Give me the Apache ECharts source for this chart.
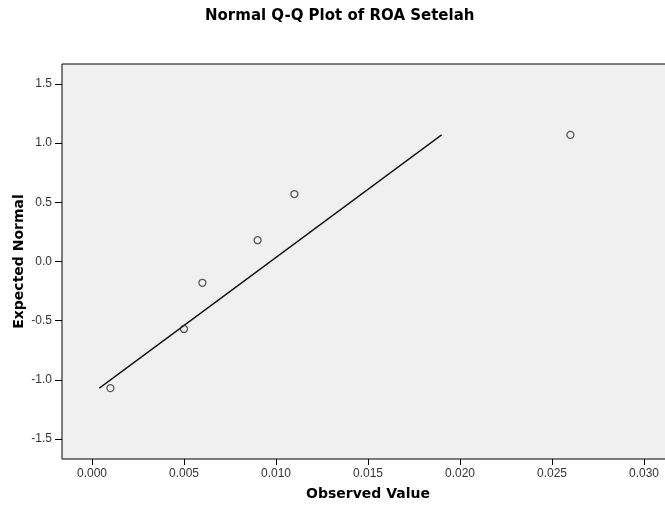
<!DOCTYPE html>
<html>
<head>
<meta charset="utf-8">
<script src="https://cdn.jsdelivr.net/npm/echarts@6/dist/echarts.min.js"></script>
<style>
  html, body { margin: 0; padding: 0; background: #fff; }
  #chart { width: 665px; height: 508px; }
</style>
</head>
<body>
<div id="chart"></div>
<script>
  // observed ROA values and their expected normal scores
  var observed = [0.001, 0.005, 0.006, 0.009, 0.011, 0.026]
  var expected = [-1.07, -0.57, -0.18, 0.18, 0.57, 1.07]
  // reference line end points
  var lineX = [0.0004, 0.0190]
  var lineY = [-1.07, 1.07]
  var xTicks = { min: 0, max: 0.03, step: 0.005 }
  var yTicks = { min: -1.5, max: 1.5, step: 0.5 }

  var points = observed.map(function (v, i) { return [v, expected[i]] })
  var line = lineX.map(function (v, i) { return [v, lineY[i]] })

  var boldFont = 'DejaVu Sans'
  var tickFont = 'Liberation Sans'

  var chart = echarts.init(document.getElementById('chart'))
  chart.setOption({
    backgroundColor: '#fff',
    animation: false,
    title: {
      text: 'Normal Q-Q Plot of ROA Setelah',
      left: 200,
      top: 4,
      textStyle: { fontFamily: boldFont, fontSize: 15, fontWeight: 'bold', color: '#000' }
    },
    grid: [
      // frame of the plot area
      {
        left: 62, top: 64, right: -1, bottom: 49,
        show: true, backgroundColor: '#f0f0f0', borderColor: '#000', borderWidth: 1,
        outerBoundsMode: 'none'
      },
      // scale area between the outer ticks
      { left: 92, right: 21, top: 84, bottom: 69, outerBoundsMode: 'none' }
    ],
    xAxis: [
      { gridIndex: 0, type: 'value', show: false },
      {
        gridIndex: 1, type: 'value',
        min: xTicks.min, max: xTicks.max, interval: xTicks.step,
        position: 'bottom',
        offset: 20,
        name: 'Observed Value', nameLocation: 'middle', nameGap: 28,
        nameMoveOverlap: false,
        nameTextStyle: { fontFamily: boldFont, fontSize: 14, fontWeight: 'bold', color: '#000' },
        axisLine: { show: false, onZero: false },
        axisTick: { show: true, length: 6, lineStyle: { color: '#000', width: 1 } },
        axisLabel: {
          margin: 9, fontFamily: tickFont, fontSize: 12, color: '#333',
          formatter: function (v) { return v.toFixed(3) }
        },
        splitLine: { show: false }
      }
    ],
    yAxis: [
      { gridIndex: 0, type: 'value', show: false },
      {
        gridIndex: 1, type: 'value',
        min: yTicks.min, max: yTicks.max, interval: yTicks.step,
        position: 'left',
        offset: 30,
        name: 'Expected Normal', nameLocation: 'middle', nameGap: 36,
        nameMoveOverlap: false,
        nameTextStyle: { fontFamily: boldFont, fontSize: 14, fontWeight: 'bold', color: '#000' },
        axisLine: { show: false, onZero: false },
        axisTick: { show: true, length: 7, lineStyle: { color: '#000', width: 1 } },
        axisLabel: {
          margin: 10, fontFamily: tickFont, fontSize: 12, color: '#333',
          formatter: function (v) { return v.toFixed(1) }
        },
        splitLine: { show: false }
      }
    ],
    series: [
      {
        type: 'line',
        xAxisIndex: 1, yAxisIndex: 1,
        data: line,
        symbol: 'none',
        lineStyle: { color: '#111', width: 1.3 },
        z: 2
      },
      {
        type: 'scatter',
        xAxisIndex: 1, yAxisIndex: 1,
        data: points,
        symbol: 'circle',
        symbolSize: 7,
        itemStyle: { color: 'rgba(0,0,0,0)', borderColor: '#333', borderWidth: 1.3 },
        z: 3
      }
    ]
  })
</script>
</body>
</html>
